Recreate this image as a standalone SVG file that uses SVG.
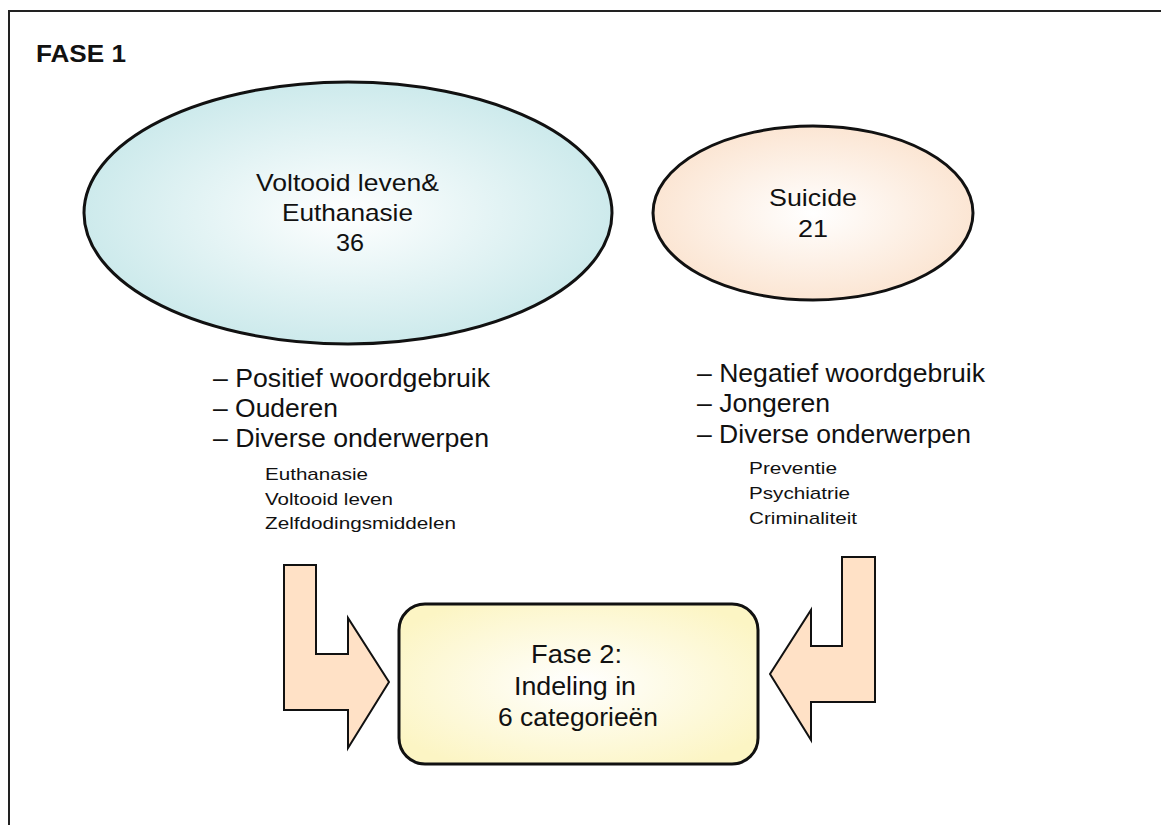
<svg xmlns="http://www.w3.org/2000/svg" width="1161" height="825" viewBox="0 0 1161 825">
<defs>
<radialGradient id="gBlue" cx="0.5" cy="0.5" r="0.55">
<stop offset="0" stop-color="#ffffff"/>
<stop offset="1" stop-color="#c8e8ea"/>
</radialGradient>
<radialGradient id="gPeach" cx="0.5" cy="0.5" r="0.55">
<stop offset="0" stop-color="#ffffff"/>
<stop offset="1" stop-color="#fbe3cf"/>
</radialGradient>
<radialGradient id="gYellow" cx="0.5" cy="0.5" r="0.6">
<stop offset="0" stop-color="#ffffff"/>
<stop offset="1" stop-color="#fcf5c4"/>
</radialGradient>
<style>
text{font-family:"Liberation Sans",Arial,sans-serif;fill:#111;}
.shape{stroke:#111;stroke-width:3;}
.arrow{fill:#ffe1c6;stroke:#111;stroke-width:2;stroke-linejoin:miter;}
.big{font-size:24px;}
.mid{font-size:25px;}
.small{font-size:17px;}
</style>
</defs>
<rect width="1161" height="825" fill="#ffffff"/>
<rect x="9" y="11" width="1170" height="830" fill="none" stroke="#222" stroke-width="2"/>
<text x="36" y="62" font-size="24" font-weight="bold" textLength="90" lengthAdjust="spacingAndGlyphs">FASE 1</text>

<g id="node-voltooid">
<ellipse cx="348" cy="213" rx="264" ry="131" fill="url(#gBlue)" class="shape"/>
<text class="big" x="256" y="191" textLength="183" lengthAdjust="spacingAndGlyphs">Voltooid leven&amp;</text>
<text class="big" x="282" y="221" textLength="131" lengthAdjust="spacingAndGlyphs">Euthanasie</text>
<text class="big" x="336" y="251" textLength="28" lengthAdjust="spacingAndGlyphs">36</text>
</g>

<g id="node-suicide">
<ellipse cx="813" cy="213" rx="160" ry="87" fill="url(#gPeach)" class="shape"/>
<text class="big" x="769" y="206" textLength="88" lengthAdjust="spacingAndGlyphs">Suicide</text>
<text class="big" x="798" y="237" textLength="30" lengthAdjust="spacingAndGlyphs">21</text>
</g>

<g id="list-left">
<text class="mid" x="213" y="387" textLength="277" lengthAdjust="spacingAndGlyphs">– Positief woordgebruik</text>
<text class="mid" x="213" y="417" textLength="125" lengthAdjust="spacingAndGlyphs">– Ouderen</text>
<text class="mid" x="213" y="447" textLength="276" lengthAdjust="spacingAndGlyphs">– Diverse onderwerpen</text>
<text class="small" x="265" y="480" textLength="103" lengthAdjust="spacingAndGlyphs">Euthanasie</text>
<text class="small" x="265" y="505" textLength="128" lengthAdjust="spacingAndGlyphs">Voltooid leven</text>
<text class="small" x="265" y="529" textLength="191" lengthAdjust="spacingAndGlyphs">Zelfdodingsmiddelen</text>
</g>

<g id="list-right">
<text class="mid" x="697" y="382" textLength="288" lengthAdjust="spacingAndGlyphs">– Negatief woordgebruik</text>
<text class="mid" x="697" y="412" textLength="133" lengthAdjust="spacingAndGlyphs">– Jongeren</text>
<text class="mid" x="697" y="443" textLength="274" lengthAdjust="spacingAndGlyphs">– Diverse onderwerpen</text>
<text class="small" x="749" y="474" textLength="88" lengthAdjust="spacingAndGlyphs">Preventie</text>
<text class="small" x="749" y="499" textLength="101" lengthAdjust="spacingAndGlyphs">Psychiatrie</text>
<text class="small" x="749" y="524" textLength="108" lengthAdjust="spacingAndGlyphs">Criminaliteit</text>
</g>

<g id="connectors">
<polygon class="arrow" points="284,565 316,565 316,654 348,654 348,618 389,682 348,748 348,710 284,710"/>
<polygon class="arrow" points="875,557 842,557 842,646 811,646 811,610 770,674 811,740 811,702 875,702"/>
</g>

<g id="node-fase2">
<rect x="399" y="604" width="359" height="160" rx="26" ry="26" fill="url(#gYellow)" class="shape"/>
<text class="mid" x="531" y="663" textLength="91" lengthAdjust="spacingAndGlyphs">Fase 2:</text>
<text class="mid" x="514" y="695" textLength="122" lengthAdjust="spacingAndGlyphs">Indeling in</text>
<text class="mid" x="498" y="726" textLength="160" lengthAdjust="spacingAndGlyphs">6 categorieën</text>
</g>
</svg>
